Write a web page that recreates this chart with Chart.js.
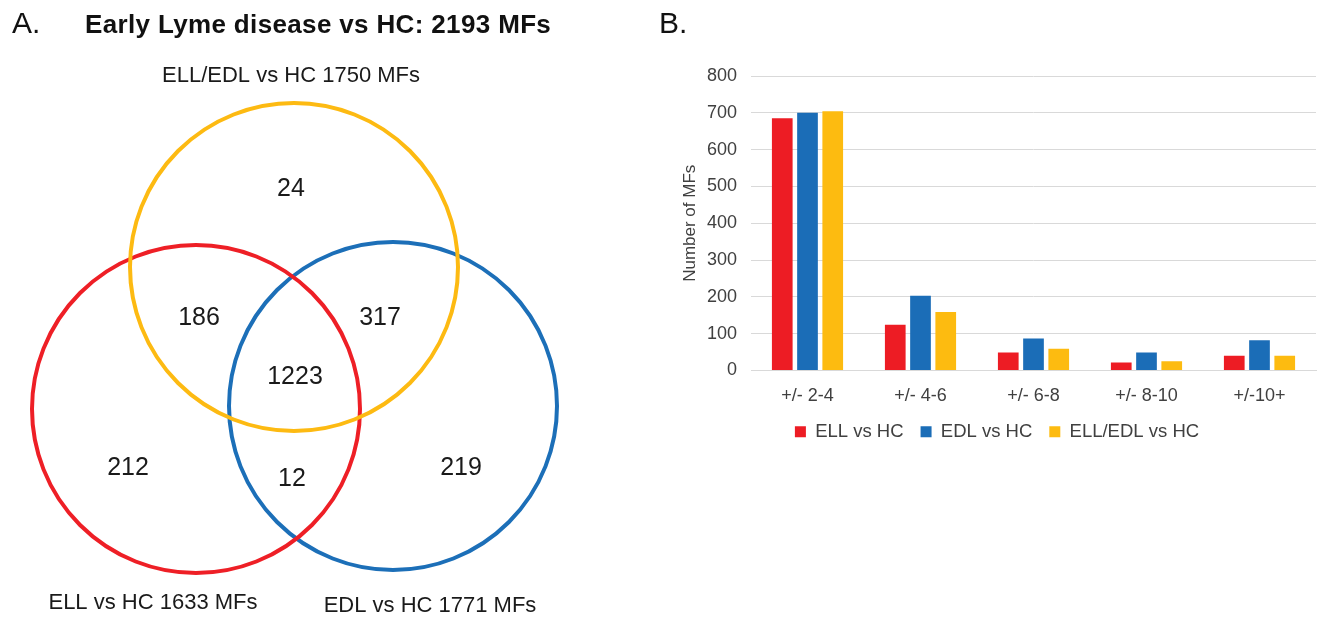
<!DOCTYPE html>
<html>
<head>
<meta charset="utf-8">
<title>Early Lyme disease vs HC</title>
<script src="https://cdn.jsdelivr.net/npm/chart.js@4.4.1/dist/chart.umd.min.js"></script>
<style>
  body { margin: 0; background: #fff; width: 1320px; height: 617px; overflow: hidden; position: relative;
         font-family: "Liberation Sans", Arial, sans-serif; }
  .panel { position: absolute; top: 0; width: 660px; height: 617px; }
  #venn-wrap { left: 0; }
  #bar-wrap { left: 660px; }
  .tag { position: absolute; top: 8px; font-size: 30px; line-height: 1; color: #111; }
  #title { position: absolute; left: 85px; top: 11px; font-size: 26px; line-height: 1; font-weight: bold;
           letter-spacing: 0.35px; color: #111; white-space: nowrap; }
</style>
</head>
<body>
<div class="panel" id="venn-wrap"><canvas id="venn"></canvas></div>
<div class="panel" id="bar-wrap"><canvas id="bars"></canvas></div>
<div class="tag" style="left:12px">A.</div>
<div id="title">Early Lyme disease vs HC: 2193 MFs</div>
<div class="tag" style="left:659px">B.</div>

<script>
// Venn diagram data (layout frame is 660 x 617 units, y grows downward)
const setNames = ['ELL/EDL vs HC', 'ELL vs HC', 'EDL vs HC'];
const setTotals = [1750, 1633, 1771];
const setCenterX = [294, 196, 393];
const setCenterY = [267, 409, 406];
const setRadius = 164;
const setLabelX = [291, 153, 430];
const setLabelY = [76, 603, 606];

const regionCounts = [24, 186, 317, 1223, 212, 12, 219];
const regionX = [291, 199, 380, 295, 128, 292, 461];
const regionY = [189, 318, 318, 377, 468, 479, 468];

// Bar chart data
const categories = ['+/- 2-4', '+/- 4-6', '+/- 6-8', '+/- 8-10', '+/-10+'];
const seriesNames = ['ELL vs HC', 'EDL vs HC', 'ELL/EDL vs HC'];
const ellValues = [685, 124, 49, 22, 40];
const edlValues = [700, 203, 87, 49, 82];
const bothValues = [704, 159, 59, 25, 40];
const yMax = 800;
const yStep = 100;

const vennColors = ['#FDBA12', '#EE1F26', '#1C6FB8'];
const barColors = ['#ED1C24', '#1B6DB7', '#FDBB10'];
const FONT = '"Liberation Sans", Arial, sans-serif';

Chart.defaults.font.family = FONT;
Chart.defaults.animation = false;

// Draws the set names and region counts at their scale positions
const vennText = {
  id: 'vennText',
  afterDatasetsDraw(chart) {
    const ctx = chart.ctx;
    const sx = chart.scales.x;
    const sy = chart.scales.y;
    ctx.save();
    ctx.fillStyle = '#1a1a1a';
    ctx.textAlign = 'center';
    ctx.textBaseline = 'middle';
    ctx.font = '22px ' + FONT;
    setNames.forEach((name, i) => {
      ctx.fillText(name + ' ' + setTotals[i] + ' MFs', sx.getPixelForValue(setLabelX[i]), sy.getPixelForValue(setLabelY[i]));
    });
    ctx.font = '25px ' + FONT;
    regionCounts.forEach((n, i) => {
      ctx.fillText(String(n), sx.getPixelForValue(regionX[i]), sy.getPixelForValue(regionY[i]));
    });
    ctx.restore();
  }
};

function radiusFromScale(context) {
  const sx = context.chart.scales.x;
  return sx.getPixelForValue(setRadius) - sx.getPixelForValue(0);
}

new Chart(document.getElementById('venn'), {
  type: 'scatter',
  data: {
    datasets: setNames.map((name, i) => ({
      label: name,
      data: [{ x: setCenterX[i], y: setCenterY[i] }],
      pointRadius: radiusFromScale,
      pointHoverRadius: radiusFromScale,
      pointBorderWidth: 4,
      pointHoverBorderWidth: 4,
      borderColor: vennColors[i],
      backgroundColor: 'rgba(0,0,0,0)'
    }))
  },
  options: {
    responsive: true,
    maintainAspectRatio: false,
    layout: { padding: 0 },
    events: [],
    plugins: { legend: { display: false }, tooltip: { enabled: false } },
    scales: {
      x: { type: 'linear', min: 0, max: 660, display: false },
      y: { type: 'linear', min: 0, max: 617, reverse: true, display: false }
    }
  },
  plugins: [vennText]
});

new Chart(document.getElementById('bars'), {
  type: 'bar',
  data: {
    labels: categories,
    datasets: [
      { label: seriesNames[0], data: ellValues, backgroundColor: barColors[0] },
      { label: seriesNames[1], data: edlValues, backgroundColor: barColors[1] },
      { label: seriesNames[2], data: bothValues, backgroundColor: barColors[2] }
    ]
  },
  options: {
    responsive: true,
    maintainAspectRatio: false,
    events: [],
    categoryPercentage: 0.67,
    barPercentage: 0.82,
    layout: { padding: { top: 76, right: 4, left: 18, bottom: 166 } },
    plugins: {
      tooltip: { enabled: false },
      legend: {
        position: 'bottom',
        labels: {
          color: '#404040',
          font: { size: 18.5 },
          boxWidth: 11,
          boxHeight: 11,
          padding: 17
        }
      }
    },
    scales: {
      x: {
        grid: { display: false },
        border: { color: '#d9d9d9' },
        ticks: { color: '#404040', font: { size: 18 }, padding: 7, maxRotation: 0 },
        afterFit(scale) { scale.height = 35; }
      },
      y: {
        min: 0,
        max: yMax,
        ticks: { stepSize: yStep, color: '#404040', font: { size: 18 }, padding: 14 },
        grid: { color: '#d9d9d9', drawTicks: false },
        border: { display: false },
        title: { display: true, text: 'Number of MFs', color: '#404040', font: { size: 17 }, padding: 2 },
        afterFit(scale) { scale.width = 73; }
      }
    }
  }
});
</script>
</body>
</html>
